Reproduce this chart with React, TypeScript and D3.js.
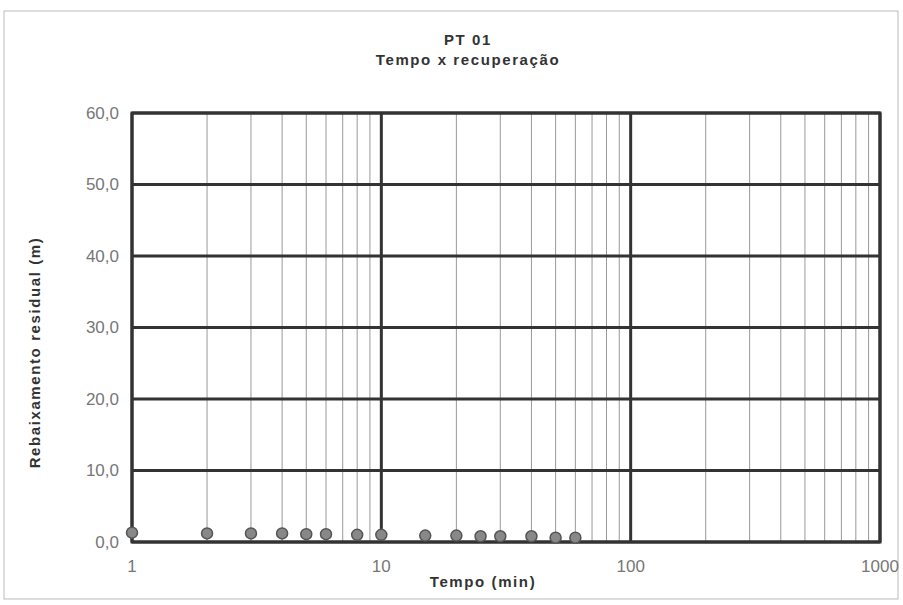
import { useEffect, useRef } from 'react';
import * as d3 from 'd3';

const tempo = [1, 2, 3, 4, 5, 6, 8, 10, 15, 20, 25, 30, 40, 50, 60];
const rebaixamento = [1.3, 1.2, 1.2, 1.2, 1.1, 1.1, 1.0, 1.0, 0.9, 0.9, 0.8, 0.8, 0.8, 0.6, 0.6];
const yTicks = [0, 10, 20, 30, 40, 50, 60];
const xTicks = [1, 10, 100, 1000];

export default function App() {
  const ref = useRef<SVGSVGElement>(null);

  useEffect(() => {
    if (!ref.current) return;
    const svg = d3.select(ref.current);
    svg.selectAll('*').remove();

    const width = 903;
    const height = 605;
    const margin = { top: 113, right: 23, bottom: 63, left: 132 };
    const innerWidth = width - margin.left - margin.right;
    const innerHeight = height - margin.top - margin.bottom;
    const font = 'Arial, "Liberation Sans", sans-serif';

    svg.append('rect')
      .attr('x', 4).attr('y', 11)
      .attr('width', width - 9).attr('height', height - 17)
      .attr('fill', 'white').attr('stroke', '#bbb').attr('stroke-width', 1);

    const g = svg.append('g').attr('transform', `translate(${margin.left},${margin.top})`);

    const x = d3.scaleLog().domain([1, 1000]).range([0, innerWidth]);
    const y = d3.scaleLinear().domain([0, 60]).range([innerHeight, 0]);

    // minor vertical grid
    const minor: number[] = [];
    [1, 10, 100].forEach((dec) => {
      for (let k = 2; k <= 9; k++) minor.push(dec * k);
    });
    g.selectAll('line.minor')
      .data(minor)
      .join('line')
      .attr('x1', (d) => x(d)).attr('x2', (d) => x(d))
      .attr('y1', 0).attr('y2', innerHeight)
      .attr('stroke', '#999').attr('stroke-width', 1);

    // major vertical grid
    g.selectAll('line.vmajor')
      .data(xTicks)
      .join('line')
      .attr('x1', (d) => x(d)).attr('x2', (d) => x(d))
      .attr('y1', 0).attr('y2', innerHeight)
      .attr('stroke', '#333').attr('stroke-width', 3);

    // horizontal grid
    g.selectAll('line.hmajor')
      .data(yTicks)
      .join('line')
      .attr('x1', 0).attr('x2', innerWidth)
      .attr('y1', (d) => y(d)).attr('y2', (d) => y(d))
      .attr('stroke', '#333').attr('stroke-width', 3);

    g.append('rect')
      .attr('width', innerWidth).attr('height', innerHeight)
      .attr('fill', 'none').attr('stroke', '#333').attr('stroke-width', 3);

    // y tick labels
    g.selectAll('text.ytick')
      .data(yTicks)
      .join('text')
      .attr('x', -13)
      .attr('y', (d) => y(d))
      .attr('dy', '0.35em')
      .attr('text-anchor', 'end')
      .attr('font-family', font)
      .attr('font-size', 17)
      .attr('fill', '#777')
      .text((d) => d3.format('.1f')(d).replace('.', ','));

    // x tick labels
    g.selectAll('text.xtick')
      .data(xTicks)
      .join('text')
      .attr('x', (d) => x(d))
      .attr('y', innerHeight + 30)
      .attr('text-anchor', 'middle')
      .attr('font-family', font)
      .attr('font-size', 17)
      .attr('fill', '#777')
      .text((d) => String(d));

    // points
    g.selectAll('circle')
      .data(tempo.map((t, i) => ({ t, v: rebaixamento[i] })))
      .join('circle')
      .attr('cx', (d) => x(d.t))
      .attr('cy', (d) => y(d.v))
      .attr('r', 5.5)
      .attr('fill', '#888')
      .attr('stroke', '#555')
      .attr('stroke-width', 1.5);

    const bold = (sel: d3.Selection<SVGTextElement, unknown, null, undefined>) =>
      sel
        .attr('text-anchor', 'middle')
        .attr('font-family', font)
        .attr('font-size', 15)
        .attr('font-weight', 'bold')
        .attr('letter-spacing', 1.6)
        .attr('fill', '#333');

    // titles
    bold(svg.append('text').attr('x', 468).attr('y', 45)).text('PT 01');
    bold(svg.append('text').attr('x', 468).attr('y', 65)).text('Tempo x recuperação');
    bold(svg.append('text').attr('x', 483).attr('y', 587)).text('Tempo (min)');
    bold(
      svg.append('text').attr('transform', `translate(40,${margin.top + innerHeight / 2 + 25}) rotate(-90)`)
    ).text('Rebaixamento residual (m)');
  }, []);

  return (
    <svg
      ref={ref}
      width={903}
      height={605}
      style={{ position: 'absolute', left: 0, top: 0, background: 'white' }}
    />
  );
}
